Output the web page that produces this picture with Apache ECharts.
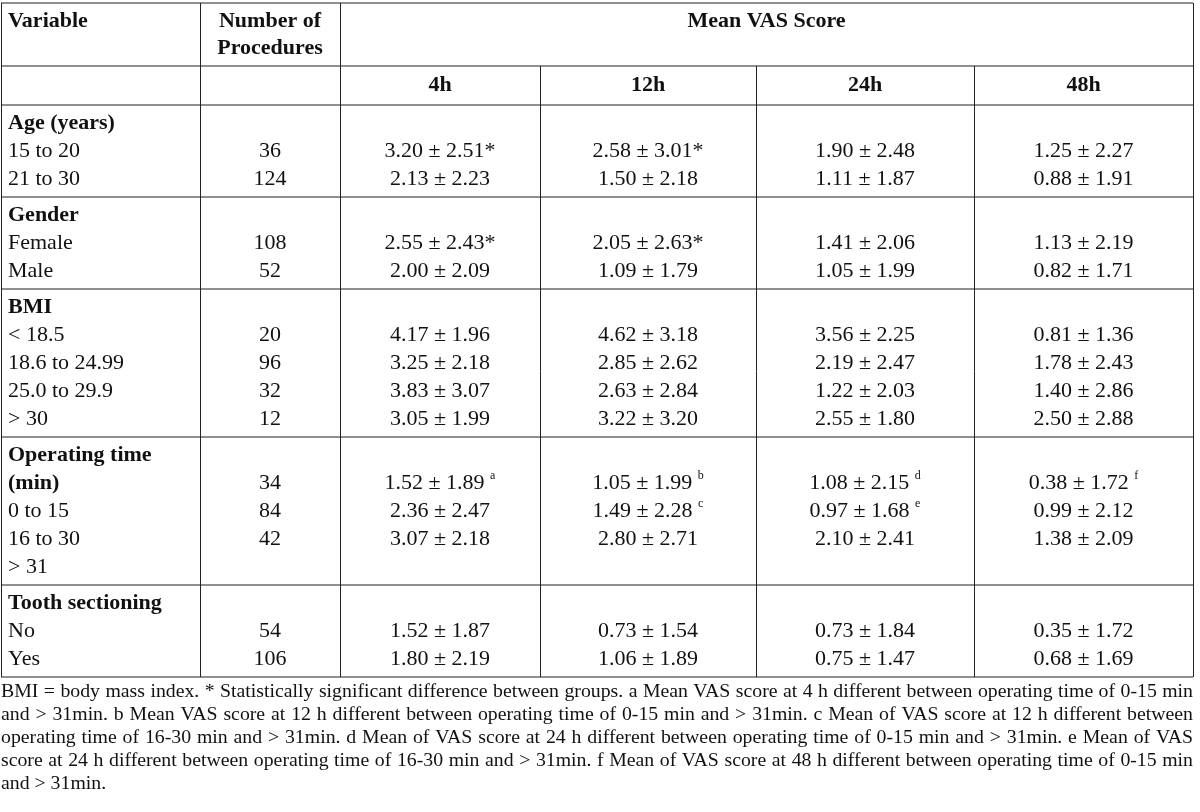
<!DOCTYPE html>
<html><head><meta charset="utf-8">
<script src="https://cdn.jsdelivr.net/npm/echarts@6/dist/echarts.min.js"></script>
<style>html,body{margin:0;padding:0;background:#fff}#c{width:1200px;height:812px}</style>
</head><body><div id="c"></div>
<script>
// ---------------- DATA ----------------
const headerVariable = 'Variable';
const headerProcedures = ['Number of', 'Procedures'];
const headerScore = 'Mean VAS Score';
const timepoints = ['4h', '12h', '24h', '48h'];

const groupTitles = [['Age (years)'], ['Gender'], ['BMI'], ['Operating time', '(min)'], ['Tooth sectioning']];
const groupLabels = [
  ['15 to 20', '21 to 30'],
  ['Female', 'Male'],
  ['< 18.5', '18.6 to 24.99', '25.0 to 29.9', '> 30'],
  ['0 to 15', '16 to 30', '> 31'],
  ['No', 'Yes']
];
const procedures = [[36, 124], [108, 52], [20, 96, 32, 12], [34, 84, 42], [54, 106]];

const ageMean = [[3.20, 2.58, 1.90, 1.25], [2.13, 1.50, 1.11, 0.88]];
const ageSD   = [[2.51, 3.01, 2.48, 2.27], [2.23, 2.18, 1.87, 1.91]];
const ageMark = [['*', '*', '', ''], ['', '', '', '']];

const genderMean = [[2.55, 2.05, 1.41, 1.13], [2.00, 1.09, 1.05, 0.82]];
const genderSD   = [[2.43, 2.63, 2.06, 2.19], [2.09, 1.79, 1.99, 1.71]];
const genderMark = [['*', '*', '', ''], ['', '', '', '']];

const bmiMean = [[4.17, 4.62, 3.56, 0.81], [3.25, 2.85, 2.19, 1.78], [3.83, 2.63, 1.22, 1.40], [3.05, 3.22, 2.55, 2.50]];
const bmiSD   = [[1.96, 3.18, 2.25, 1.36], [2.18, 2.62, 2.47, 2.43], [3.07, 2.84, 2.03, 2.86], [1.99, 3.20, 1.80, 2.88]];
const bmiMark = [['', '', '', ''], ['', '', '', ''], ['', '', '', ''], ['', '', '', '']];

const opMean = [[1.52, 1.05, 1.08, 0.38], [2.36, 1.49, 0.97, 0.99], [3.07, 2.80, 2.10, 1.38]];
const opSD   = [[1.89, 1.99, 2.15, 1.72], [2.47, 2.28, 1.68, 2.12], [2.18, 2.71, 2.41, 2.09]];
const opMark = [['a', 'b', 'd', 'f'], ['', 'c', 'e', ''], ['', '', '', '']];

const toothMean = [[1.52, 0.73, 0.73, 0.35], [1.80, 1.06, 0.75, 0.68]];
const toothSD   = [[1.87, 1.54, 1.84, 1.72], [2.19, 1.89, 1.47, 1.69]];
const toothMark = [['', '', '', ''], ['', '', '', '']];

const footnoteLines = [
  'BMI = body mass index. * Statistically significant difference between groups. a Mean VAS score at 4 h different between operating time of 0-15 min',
  'and > 31min. b Mean VAS score at 12 h different between operating time of 0-15 min and > 31min. c Mean of VAS score at 12 h different between',
  'operating time of 16-30 min and > 31min. d Mean of VAS score at 24 h different between operating time of 0-15 min and > 31min. e Mean of VAS',
  'score at 24 h different between operating time of 16-30 min and > 31min. f Mean of VAS score at 48 h different between operating time of 0-15 min',
  'and > 31min.'
];

// ---------------- LAYOUT ----------------
const groupMeans = [ageMean, genderMean, bmiMean, opMean, toothMean];
const groupSDs = [ageSD, genderSD, bmiSD, opSD, toothSD];
const groupMarks = [ageMark, genderMark, bmiMark, opMark, toothMark];

const FAMILY = '"Liberation Serif", "Times New Roman", serif';
const FS = 22, FOOT_FS = 19.8;
const TEXT = '#111';
const colEdges = [1, 200, 340, 540, 756, 974, 1193];
const tableTop = 3;
const head1Lines = [21, 48];
const head1Bottom = 66;
const head2Text = 85.5;
const head2Bottom = 105;
const pitch = 28, pad = 18;
const firstColX = 8;
const footTop = 692, footPitch = 23;

const cells = [];
const hLines = [];
const vLines = [];
const mid = (a, b) => (a + b) / 2;

// header
cells.push({ x: firstColX, y: head1Lines[0], text: headerVariable, align: 'left', bold: true });
headerProcedures.forEach((t, i) => cells.push({ x: mid(colEdges[1], colEdges[2]), y: head1Lines[i], text: t, align: 'center', bold: true }));
cells.push({ x: mid(colEdges[2], colEdges[6]), y: head1Lines[0], text: headerScore, align: 'center', bold: true });
timepoints.forEach((t, i) => cells.push({ x: mid(colEdges[2 + i], colEdges[3 + i]), y: head2Text, text: t, align: 'center', bold: true }));

hLines.push([colEdges[0], tableTop, colEdges[6], tableTop]);
hLines.push([colEdges[0], head1Bottom, colEdges[6], head1Bottom]);
hLines.push([colEdges[0], head2Bottom, colEdges[6], head2Bottom]);

let start = head2Bottom;
groupTitles.forEach((titles, g) => {
  const labels = groupLabels[g];
  const nLines = titles.length + labels.length;
  const lineY = i => start + pad + i * pitch;
  titles.forEach((t, i) => cells.push({ x: firstColX, y: lineY(i), text: t, align: 'left', bold: true }));
  labels.forEach((t, i) => cells.push({ x: firstColX, y: lineY(titles.length + i), text: t, align: 'left', bold: false }));
  procedures[g].forEach((n, r) => {
    cells.push({ x: mid(colEdges[1], colEdges[2]), y: lineY(1 + r), text: String(n), align: 'center', bold: false });
    timepoints.forEach((tp, c) => {
      const m = groupMarks[g][r][c];
      let txt = '{v|' + groupMeans[g][r][c].toFixed(2) + ' \u00b1 ' + groupSDs[g][r][c].toFixed(2);
      if (m === '*') txt += '*}';
      else if (m) txt += ' }{s|' + m + '}';
      else txt += '}';
      cells.push({ x: mid(colEdges[2 + c], colEdges[3 + c]), y: lineY(1 + r), text: txt, align: 'center', bold: false, rich: true });
    });
  });
  start = start + 2 * pad + (nLines - 1) * pitch;
  hLines.push([colEdges[0], start, colEdges[6], start]);
});
const tableBottom = start;
[0, 1, 2, 6].forEach(i => vLines.push([colEdges[i], tableTop, colEdges[i], tableBottom]));
[3, 4, 5].forEach(i => vLines.push([colEdges[i], head1Bottom, colEdges[i], tableBottom]));

// footnote (justified)
const ctx = document.createElement('canvas').getContext('2d');
ctx.font = FOOT_FS + 'px "Liberation Serif"';
const footWords = [];
footnoteLines.forEach((line, li) => {
  const words = line.split(' ');
  const ws = words.map(w => ctx.measureText(w).width);
  const total = ws.reduce((a, b) => a + b, 0);
  const last = li === footnoteLines.length - 1;
  const left = 1, right = 1193;
  const gap = last ? ctx.measureText(' ').width : (right - left - total) / (words.length - 1);
  let x = left;
  words.forEach((w, i) => { footWords.push({ x: x, y: footTop + li * footPitch, text: w }); x += ws[i] + gap; });
});

// ---------------- CHART ----------------
const chart = echarts.init(document.getElementById('c'), null, { renderer: 'canvas' });
const richStyles = {
  v: { fontSize: FS, fontFamily: FAMILY, fill: TEXT, color: TEXT, lineHeight: 26 },
  s: { fontSize: 12, fontFamily: FAMILY, fill: TEXT, color: TEXT, lineHeight: 14, verticalAlign: 'top' }
};
chart.setOption({
  animation: false,
  grid: { left: 0, right: 0, top: 0, bottom: 0 },
  xAxis: { type: 'value', min: 0, max: 1200, show: false },
  yAxis: { type: 'value', min: 0, max: 812, inverse: true, show: false },
  series: [
    {
      type: 'custom', silent: true,
      data: hLines,
      renderItem: (params, api) => {
        const a = api.coord([api.value(0), api.value(1)]);
        const b = api.coord([api.value(2), api.value(3)]);
        return { type: 'line', shape: { x1: a[0], y1: a[1], x2: b[0], y2: b[1] }, style: { stroke: '#6a6a6a', lineWidth: 1.6 } };
      }
    },
    {
      type: 'custom', silent: true,
      data: vLines,
      renderItem: (params, api) => {
        const a = api.coord([api.value(0), api.value(1)]);
        const b = api.coord([api.value(2), api.value(3)]);
        return { type: 'line', shape: { x1: Math.round(a[0]) + 0.5, y1: a[1], x2: Math.round(b[0]) + 0.5, y2: b[1] }, style: { stroke: '#222', lineWidth: 1 } };
      }
    },
    {
      type: 'custom', silent: true,
      data: cells.map(c => [c.x, c.y]),
      renderItem: (params, api) => {
        const c = cells[params.dataIndex];
        const p = api.coord([api.value(0), api.value(1)]);
        const style = {
          text: c.text, fontFamily: FAMILY, fontSize: FS, fontWeight: c.bold ? 'bold' : 'normal',
          fill: TEXT, align: c.align, verticalAlign: 'middle'
        };
        if (c.rich) style.rich = richStyles;
        return { type: 'text', x: p[0], y: p[1], style: style };
      }
    },
    {
      type: 'custom', silent: true,
      data: footWords.map(w => [w.x, w.y]),
      renderItem: (params, api) => {
        const w = footWords[params.dataIndex];
        const p = api.coord([api.value(0), api.value(1)]);
        return { type: 'text', x: p[0], y: p[1], style: { text: w.text, fontFamily: FAMILY, fontSize: FOOT_FS, fill: TEXT, align: 'left', verticalAlign: 'middle' } };
      }
    }
  ]
});
</script></body></html>
